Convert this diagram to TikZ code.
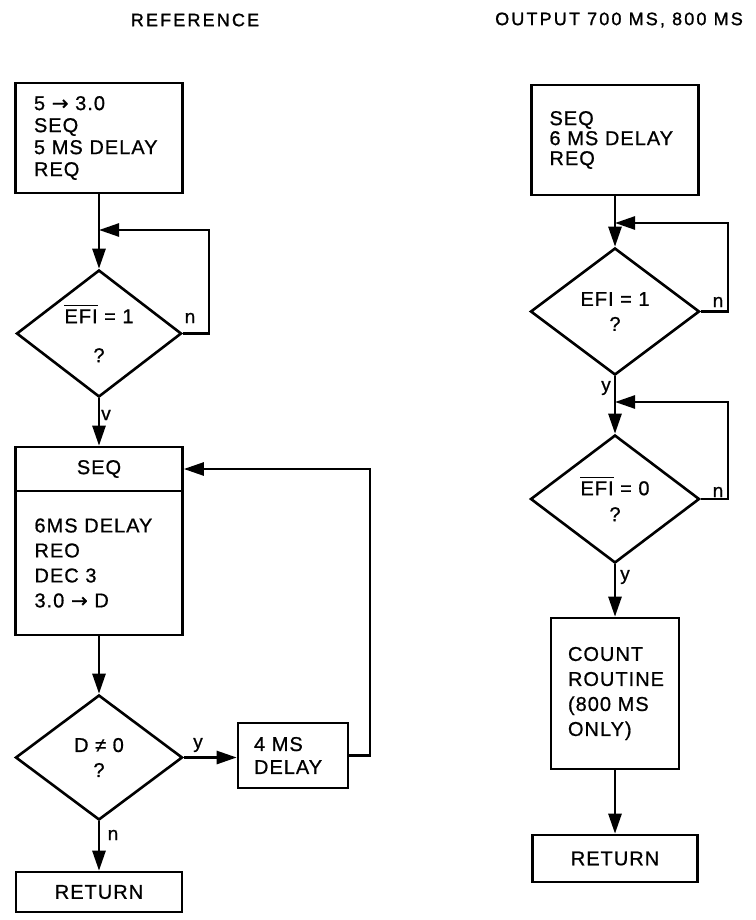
\documentclass[tikz,border=0pt]{standalone}
\usepackage{fontspec}
\setmainfont{Liberation Sans}[LetterSpace=5,FakeBold=0.8]
\newfontfamily\titlef{Liberation Sans}[LetterSpace=12,FakeBold=1.2]
\newfontfamily\arrf{DejaVu Sans}[FakeBold=0.8]
\usetikzlibrary{shapes.geometric,arrows.meta}
\newcommand\ovl[1]{\leavevmode\vbox{\hrule height 1.6pt\kern 3pt\hbox{#1}}}
\newcommand\rarr{{\arrf →}}
\tikzset{
  x=1pt,y=-1pt,
  fs/.style={font=\fontsize{20}{#1}\selectfont},
  box/.style={draw,line width=2.6pt,rectangle,inner ysep=0pt,align=left},
  cbox/.style={draw,line width=2.6pt,rectangle,inner sep=0pt,align=center},
  dia/.style={draw,diamond,line width=2.6pt,inner sep=0pt,align=center},
  arr/.style={line width=2.6pt,-{Triangle[length=20pt,width=13pt]}},
  ln/.style={line width=2.6pt},
  lab/.style={font=\fontsize{19}{22}\selectfont,inner sep=0pt},
  ttl/.style={font=\titlef\fontsize{18}{20}\selectfont,inner sep=0pt}
}
\begin{document}
\begin{tikzpicture}
\useasboundingbox (0,0) rectangle (755,920);
% titles
\node[ttl] (t1) at (195,20) {REFERENCE};
\node[ttl] (t2) at (619,20) {OUTPUT 700 MS, 800 MS};
% left column
\node[box,fs=22,inner xsep=18.5pt,text width=130pt,minimum height=110pt] (box1) at (99,138)
  {5 \rarr\ 3.0\\SEQ\\5 MS DELAY\\REQ};
\node[dia,fs=39,minimum width=165pt,minimum height=127pt] (d1) at (99,333.5)
  {\ovl{EFI} = 1\\?};
\node[cbox,fs=22,minimum width=167pt,minimum height=44pt] (seqtop) at (99,469) {SEQ};
\node[box,fs=25,inner xsep=19pt,text width=129pt,minimum height=144pt] (seqbody) at (99,563)
  {6MS DELAY\\REO\\DEC 3\\3.0 \rarr\ D};
\node[dia,fs=25,minimum width=167pt,minimum height=125pt] (d2) at (99,757.5)
  {D ≠ 0\\?};
\node[box,fs=23,inner xsep=16pt,text width=78pt,minimum height=65pt] (ms4) at (293,755.5)
  {4 MS\\DELAY};
\node[cbox,fs=22,minimum width=166pt,minimum height=40pt] (ret1) at (99,892) {RETURN};
\coordinate (j1) at (99,230);
\coordinate (lp1) at (209,230);
\coordinate (lp2) at (370,469);
\draw[arr] (box1.south) -- (d1.north);
\draw[arr] (d1.east) -| (lp1) -- (j1);
\draw[arr] (d1.south) -- (seqtop.north);
\draw[arr] (seqbody.south) -- (d2.north);
\draw[arr] (d2.east) -- (d2.east -| ms4.west);
\draw[arr] (ms4.east) -| (lp2) -- (seqtop.east);
\draw[arr] (d2.south) -- (ret1.north);
\node[lab] (ln1) at (190,318) {n};
\node[lab] (lv1) at (106,415) {v};
\node[lab] (ly2) at (198,745) {y};
\node[lab] (ln2) at (113,835) {n};
% right column
\node[box,fs=20,inner xsep=18pt,text width=131pt,minimum height=110pt] (rbox) at (615,140)
  {SEQ\\6 MS DELAY\\REQ};
\node[dia,fs=25,minimum width=169pt,minimum height=127pt] (d3) at (615,311.5)
  {EFI = 1\\?};
\node[dia,fs=26,minimum width=169pt,minimum height=128pt] (d4) at (615,499)
  {\ovl{EFI} = 0\\?};
\node[box,fs=25,inner xsep=17pt,text width=94pt,minimum height=151pt] (count) at (615,693.5)
  {COUNT\\ROUTINE\\(800 MS\\ONLY)};
\node[cbox,fs=22,minimum width=165pt,minimum height=47pt] (ret2) at (615,858.5) {RETURN};
\coordinate (j3) at (615,223);
\coordinate (lp3) at (728,223);
\coordinate (j4) at (615,402);
\coordinate (lp4) at (728,402);
\draw[arr] (rbox.south) -- (d3.north);
\draw[arr] (d3.east) -| (lp3) -- (j3);
\draw[arr] (d3.south) -- (d4.north);
\draw[arr] (d4.east) -| (lp4) -- (j4);
\draw[arr] (d4.south) -- (count.north);
\draw[arr] (count.south) -- (ret2.north);
\node[lab] (rn1) at (718,302) {n};
\node[lab] (ry1) at (606,388) {y};
\node[lab] (rn2) at (718,492) {n};
\node[lab] (ry2) at (625,577) {y};
\end{tikzpicture}
\end{document}
